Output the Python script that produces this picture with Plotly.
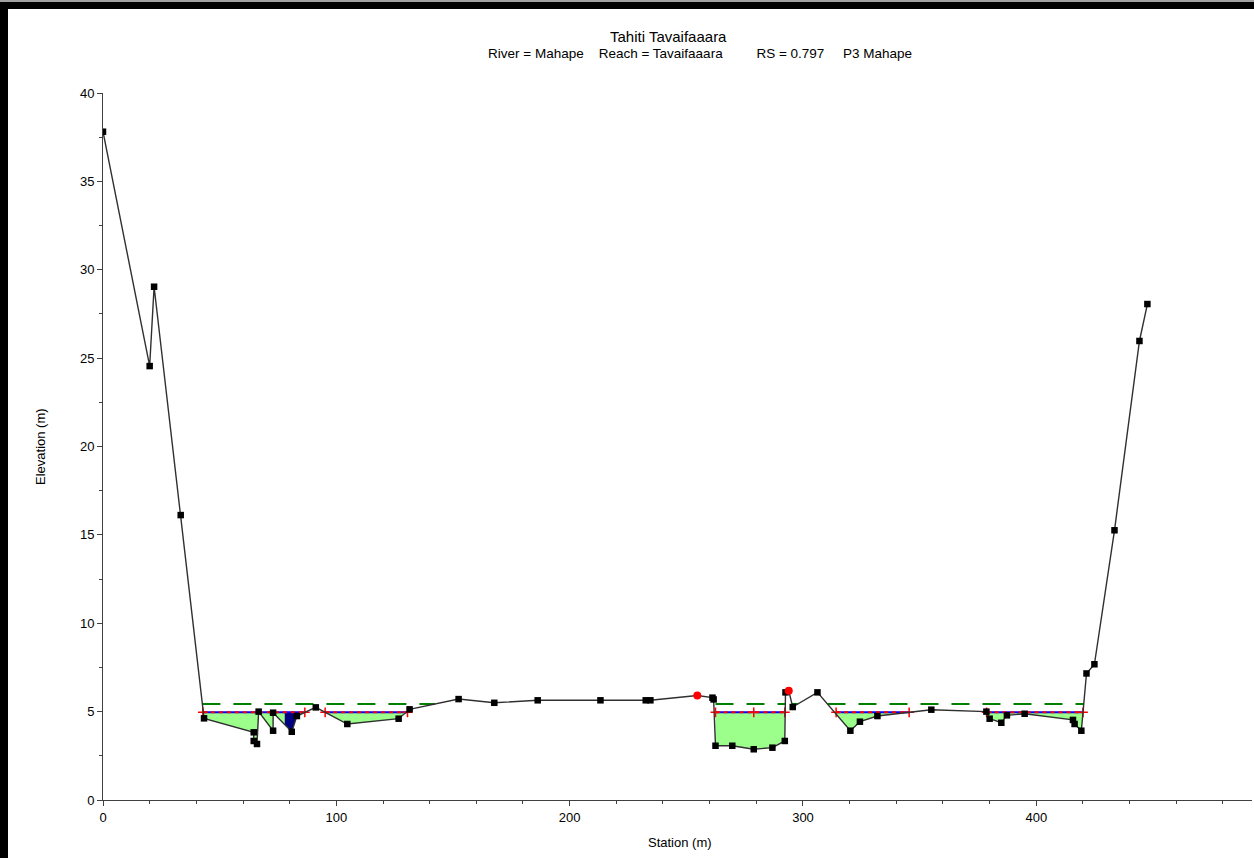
import plotly.graph_objects as go

# Cross-section ground points (station m, elevation m)
station = [0.0, 20.0, 21.9, 33.3, 43.3, 64.6, 64.6, 66.0, 66.7, 72.9, 72.9, 80.9, 83.1,
           91.2, 104.7, 126.7, 131.4, 152.4, 167.7, 186.3, 213.2, 232.6, 234.6, 254.7,
           261.2, 261.7, 262.5, 269.7, 278.9, 286.9, 292.2, 292.5, 293.9, 295.6, 306.2,
           320.3, 324.4, 331.9, 355.0, 378.6, 380.0, 385.0, 387.4, 395.0, 415.7, 416.4,
           419.3, 421.5, 424.9, 433.5, 444.2, 447.6]
elevation = [37.81, 24.55, 29.04, 16.12, 4.62, 3.83, 3.34, 3.17, 5.00, 3.92, 4.94, 3.86, 4.75,
             5.24, 4.30, 4.60, 5.13, 5.71, 5.50, 5.64, 5.64, 5.64, 5.64, 5.91,
             5.79, 5.69, 3.07, 3.07, 2.87, 2.96, 3.34, 6.09, 6.18, 5.26, 6.09,
             3.92, 4.43, 4.75, 5.11, 5.00, 4.60, 4.37, 4.79, 4.88, 4.53, 4.30,
             3.92, 7.16, 7.68, 15.26, 25.97, 28.06]

# Bank stations
bank_station = [254.7, 293.9]

# Water surface and energy grade elevations
ws_elev = 4.96
eg_elev = 5.43

# Wetted reaches of the water surface
ws_start = [42.8, 95.2, 262.5, 314.2, 378.7]
ws_end = [86.5, 130.5, 292.2, 345.5, 420.0]
ws_ticks = [42.8, 86.5, 95.2, 130.5, 262.5, 278.9, 292.2, 314.2, 345.5, 378.7, 420.0]

# Energy grade line reaches
eg_start = [42.6, 262.5, 295.3, 310.5]
eg_end = [142.3, 292.3, 297.8, 420.3]

# Ineffective flow pocket
pocket_start = [77.9]
pocket_end = [84.0]


def ground_between(x0, x1):
    """Ground polyline restricted to [x0, x1]."""
    pts = []
    for i in range(len(station) - 1):
        xa, ya, xb, yb = station[i], elevation[i], station[i + 1], elevation[i + 1]
        if xb < x0 or xa > x1:
            continue
        if xa == xb:
            pts += [(xa, ya), (xb, yb)]
            continue
        sa, sb = max(xa, x0), min(xb, x1)
        ya2 = ya + (yb - ya) * (sa - xa) / (xb - xa)
        yb2 = ya + (yb - ya) * (sb - xa) / (xb - xa)
        pts += [(sa, ya2), (sb, yb2)]
    return pts


def water_polygon(x0, x1, level):
    pts = ground_between(x0, x1)
    xs = [x0] + [p[0] for p in pts] + [x1, x0]
    ys = [level] + [min(p[1], level) for p in pts] + [level, level]
    return xs, ys


fig = go.Figure()

# Wetted area fill
for a, b in zip(ws_start, ws_end):
    px, py = water_polygon(a, b, ws_elev)
    fig.add_trace(go.Scatter(x=px, y=py, mode="lines", fill="toself",
                             fillcolor="#9cff8c", line=dict(width=0),
                             hoverinfo="skip", showlegend=False))

for a, b in zip(pocket_start, pocket_end):
    px, py = water_polygon(a, b, ws_elev)
    fig.add_trace(go.Scatter(x=px, y=py, mode="lines", fill="toself",
                             fillcolor="#000080", line=dict(width=0),
                             hoverinfo="skip", showlegend=False))

# Energy grade line
eg_x, eg_y = [], []
for a, b in zip(eg_start, eg_end):
    eg_x += [a, b, None]
    eg_y += [eg_elev, eg_elev, None]
fig.add_trace(go.Scatter(x=eg_x, y=eg_y, mode="lines",
                         line=dict(color="#008000", width=2, dash="18px,13px"),
                         showlegend=False, hoverinfo="skip"))

# Water surface line (blue with red dashes)
ws_x, ws_y = [], []
for a, b in zip(ws_start, ws_end):
    ws_x += [a, b, None]
    ws_y += [ws_elev, ws_elev, None]
fig.add_trace(go.Scatter(x=ws_x, y=ws_y, mode="lines",
                         line=dict(color="#0000ff", width=2),
                         showlegend=False, hoverinfo="skip"))
fig.add_trace(go.Scatter(x=ws_x, y=ws_y, mode="lines",
                         line=dict(color="#ff0000", width=2, dash="4px,4px"),
                         showlegend=False, hoverinfo="skip"))
fig.add_trace(go.Scatter(x=ws_ticks, y=[ws_elev] * len(ws_ticks), mode="markers",
                         marker=dict(symbol="cross-thin", size=7,
                                     line=dict(color="#ff0000", width=1.5)),
                         showlegend=False, hoverinfo="skip"))

# Ground profile
fig.add_trace(go.Scatter(x=station, y=elevation, mode="lines",
                         line=dict(color="#303030", width=1.4),
                         showlegend=False))
sq_x = [s for s in station if s not in bank_station]
sq_y = [e for s, e in zip(station, elevation) if s not in bank_station]
fig.add_trace(go.Scatter(x=sq_x, y=sq_y, mode="markers",
                         marker=dict(symbol="square", size=6.5, color="#000000"),
                         showlegend=False))
bk_y = [e for s, e in zip(station, elevation) if s in bank_station]
fig.add_trace(go.Scatter(x=bank_station, y=bk_y, mode="markers",
                         marker=dict(symbol="circle", size=8, color="#ff0000"),
                         showlegend=False))

# Layout geometry (pixels)
W, H = 1254, 858
L, R, T, B = 103, 2, 93, 58
pw, ph = W - L - R, H - T - B


def px_x(p):
    return (p - L) / pw


def px_y(p):
    return (H - B - p) / ph


def label(text, x, y, size=13, angle=0):
    return dict(text=text, x=px_x(x), y=px_y(y), xref="paper", yref="paper",
                xanchor="center", yanchor="middle", showarrow=False, textangle=angle,
                font=dict(family=family, size=size, color="#000000"))


family = "Arial, Liberation Sans, sans-serif"
font = dict(family=family, size=13, color="#000000")
sp = "\u00a0"
subtitle = ("River = Mahape" + sp * 4 + "Reach = Tavaifaaara" + sp * 9 +
            "RS = 0.797" + sp * 5 + "P3 Mahape")

fig.update_layout(
    width=W, height=H,
    margin=dict(l=L, r=R, t=T, b=B, pad=0),
    paper_bgcolor="white", plot_bgcolor="white",
    font=font,
    xaxis=dict(range=[0, pw / 2.3333], showgrid=False, zeroline=False,
               showline=True, linecolor="#404040", linewidth=1,
               ticks="outside", ticklen=5, tickcolor="#404040", dtick=100,
               minor=dict(dtick=20, ticks="outside", ticklen=3, tickcolor="#404040"),
               tickfont=font),
    yaxis=dict(range=[0, 40], showgrid=False, zeroline=False,
               showline=True, linecolor="#404040", linewidth=1,
               ticks="outside", ticklen=5, tickcolor="#404040", dtick=5,
               minor=dict(dtick=2.5, ticks="outside", ticklen=3, tickcolor="#404040"),
               tickfont=font),
    annotations=[
        label("Tahiti Tavaifaaara", 668, 37, size=15),
        label(subtitle, 700, 53, size=13.5),
        label("Elevation (m)", 40, 446, angle=-90),
        label("Station (m)", 680, 842),
    ],
    shapes=[
        dict(type="rect", xref="paper", yref="paper", x0=px_x(0), x1=px_x(8),
             y0=px_y(858), y1=px_y(2), fillcolor="#000000", line=dict(width=0), layer="above"),
        dict(type="rect", xref="paper", yref="paper", x0=px_x(0), x1=px_x(1254),
             y0=px_y(9), y1=px_y(2), fillcolor="#000000", line=dict(width=0), layer="above"),
        dict(type="rect", xref="paper", yref="paper", x0=px_x(0), x1=px_x(1254),
             y0=px_y(2), y1=px_y(0), fillcolor="#a0a0a0", line=dict(width=0), layer="above"),
    ],
)

fig.write_html("out.html")
